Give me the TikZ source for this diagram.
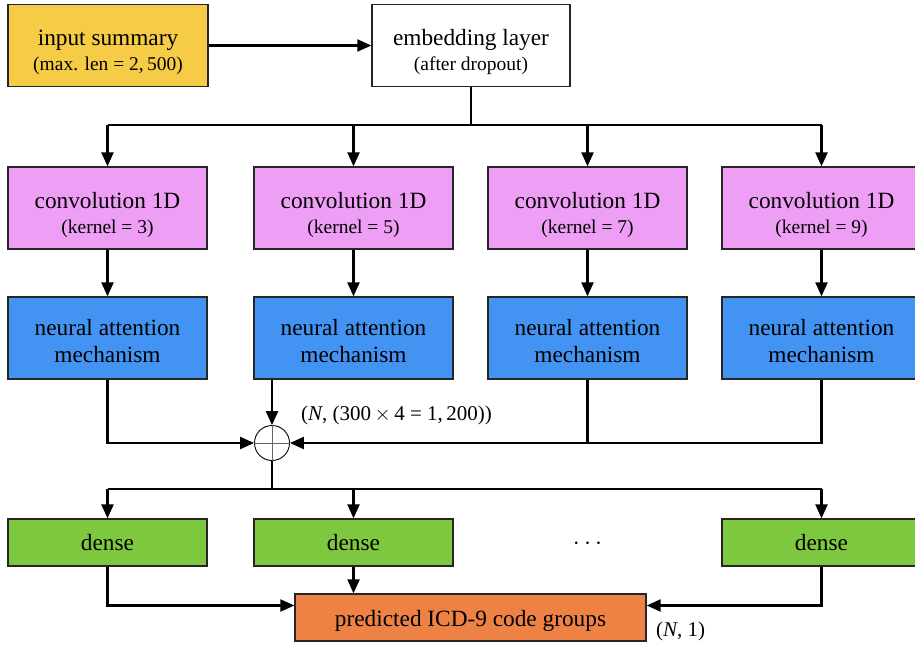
\documentclass[tikz,border=0pt]{standalone}
\usepackage{fontspec}
\setmainfont{Liberation Serif}
\usetikzlibrary{arrows.meta,calc}
\definecolor{cyellow}{HTML}{F6CB45}
\definecolor{cpink}{HTML}{EF9EF5}
\definecolor{cblue}{HTML}{4394F2}
\definecolor{cgreen}{HTML}{7DC83E}
\definecolor{corange}{HTML}{EE8244}
\newcommand\sfnt{\fontsize{19.5}{23}\selectfont}
\newcommand\tstrut[1]{\rule{0pt}{#1}}
\begin{document}
\begin{tikzpicture}[x=1pt,y=-1pt,
  box/.style={draw=black!85, line width=1.3pt, inner sep=0pt, align=center, font=\fontsize{23.3}{27}\selectfont},
  tall/.style={minimum width=199pt, minimum height=82pt},
  flat/.style={minimum width=199pt, minimum height=47pt},
  conn/.style={line width=2.2pt, -{Triangle[length=14pt,width=12pt]}},
  plain/.style={line width=2.2pt},
  lbl/.style={anchor=west, inner sep=0pt, font=\fontsize{21}{24}\selectfont}]
\useasboundingbox (0,0) rectangle (915,646);

\node[box,tall,minimum width=200pt,fill=cyellow] (in) at (108,45.5) {\tstrut{30pt}input summary\\[-2pt]{\sfnt (max. len = 2,\,500)}};
\node[box,tall,minimum width=198pt,fill=white] (emb) at (471,45.5) {\tstrut{30pt}embedding layer\\[-2pt]{\sfnt (after dropout)}};

\node[box,tall,fill=cpink] (c1) at (107.5,208) {\tstrut{30pt}convolution 1D\\[-2pt]{\sfnt (kernel = 3)}};
\node[box,tall,fill=cpink] (c2) at (353.5,208) {\tstrut{30pt}convolution 1D\\[-2pt]{\sfnt (kernel = 5)}};
\node[box,tall,fill=cpink] (c3) at (587.5,208) {\tstrut{30pt}convolution 1D\\[-2pt]{\sfnt (kernel = 7)}};
\node[box,tall,fill=cpink] (c4) at (821.5,208) {\tstrut{30pt}convolution 1D\\[-2pt]{\sfnt (kernel = 9)}};

\node[box,tall,fill=cblue] (a1) at (107.5,338) {\tstrut{22pt}neural attention\\mechanism};
\node[box,tall,fill=cblue] (a2) at (353.5,338) {\tstrut{22pt}neural attention\\mechanism};
\node[box,tall,fill=cblue] (a3) at (587.5,338) {\tstrut{22pt}neural attention\\mechanism};
\node[box,tall,fill=cblue] (a4) at (821.5,338) {\tstrut{22pt}neural attention\\mechanism};

\node[draw, circle, minimum size=35pt, inner sep=0pt, line width=0.9pt] (sum) at (272,443) {};
\draw[black!60, line width=0.9pt] (sum.north) -- (sum.south) (sum.west) -- (sum.east);

\node[box,flat,fill=cgreen] (d1) at (107.5,542.5) {dense};
\node[box,flat,fill=cgreen] (d2) at (353.5,542.5) {dense};
\node[font=\fontsize{26}{27}\selectfont] (dots) at (587.5,544) {$\cdots$};
\node[box,flat,fill=cgreen] (d4) at (821.5,542.5) {dense};

\node[box,minimum width=351pt,minimum height=47pt,fill=corange] (out) at (470.5,617.5) {\tstrut{24pt}predicted ICD-9 code groups};

\node[lbl] (lab1) at (301,415) {(\textit{N}, (300\,$\times$\,4 = 1,\,200))};
\node[lbl] (lab2) at (656,631) {(\textit{N}, 1)};

% input -> embedding
\draw[conn] (in.east) -- (emb.west);
% embedding -> convs
\coordinate (br1) at (471,125);
\draw[plain] (emb.south) -- (br1);
\draw[plain] (c1.north |- br1) -- (c4.north |- br1);
\foreach \c in {c1,c2,c3,c4} {\draw[conn] (\c.north |- br1) -- (\c.north);}
% convs -> attention
\draw[conn] (c1.south) -- (a1.north);
\draw[conn] (c2.south) -- (a2.north);
\draw[conn] (c3.south) -- (a3.north);
\draw[conn] (c4.south) -- (a4.north);
% attention -> sum
\draw[conn] (a1.south) |- (sum.west);
\draw[conn] (sum |- a2.south) -- (sum.north);
\draw[conn] (a4.south) |- (sum.east);
\draw[plain] (a3.south) -- (a3.south |- sum);
% sum -> dense
\coordinate (br2) at (272,489);
\draw[plain] (sum.south) -- (br2);
\draw[plain] (d1.north |- br2) -- (d4.north |- br2);
\foreach \d in {d1,d2,d4} {\draw[conn] (\d.north |- br2) -- (\d.north);}
% dense -> output
\coordinate (oL) at ($(out.west)+(0,-12)$);
\coordinate (oR) at ($(out.east)+(0,-12)$);
\draw[conn] (d1.south) |- (oL);
\draw[conn] (d2.south) -- (d2.south |- out.north);
\draw[conn] (d4.south) |- (oR);
\end{tikzpicture}
\end{document}
